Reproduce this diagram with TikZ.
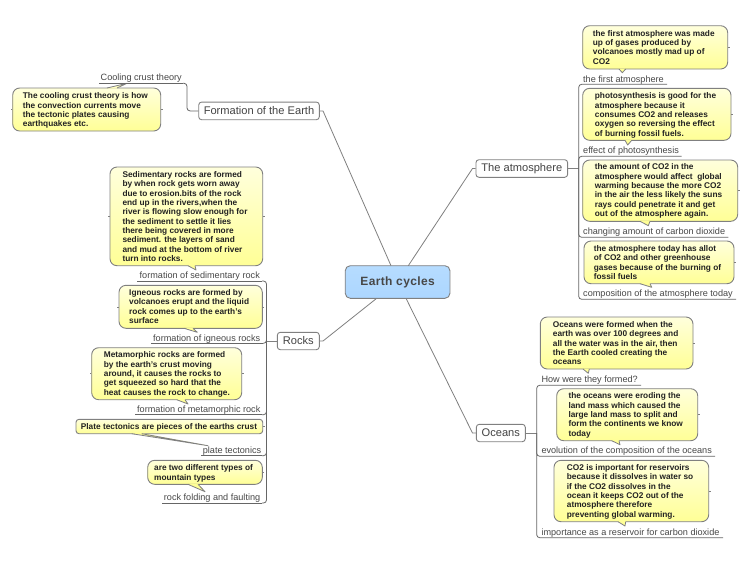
\documentclass[tikz,border=0pt]{standalone}
\usepackage{fontspec}
\setmainfont{Liberation Sans}
\definecolor{ln}{HTML}{808080}
\definecolor{ul}{HTML}{666666}
\definecolor{txt}{HTML}{222222}
\definecolor{ytop}{HTML}{FFFFDC}
\definecolor{ymid}{HTML}{FFFFA8}
\definecolor{ybot}{HTML}{FFFF96}
\definecolor{B1}{HTML}{B6DCFF}
\definecolor{B2}{HTML}{8CC4FF}
\definecolor{B3}{HTML}{ACD6FF}
\tikzset{
  notebody/.style={draw=ln,line width=.9pt,rounded corners=7pt,inner sep=0pt,top color=ytop,middle color=ymid,bottom color=ybot},
  notetext/.style={anchor=north west,inner sep=0pt,align=left,text=txt,yshift=-.7pt,font=\fontsize{8.3}{9.33}\selectfont\bfseries},
  tailline/.style={draw=ln,line width=.8pt,line join=round},
  lab/.style={anchor=base west,inner sep=0pt,text=ul!70!black,font=\fontsize{9.12}{11}\selectfont},
  topic/.style={draw=ln,fill=white,line width=.9pt,rounded corners=3pt,inner sep=0pt,text=txt!85!white,font=\fontsize{11.1}{13}\selectfont},
  center topic/.style={draw=ln,line width=.9pt,rounded corners=5pt,inner sep=0pt,top color=B1,middle color=B2,bottom color=B3,text=black!72,font=\fontsize{12}{14}\selectfont\bfseries},
  conn/.style={draw=ln,line width=.8pt},
  under/.style={draw=ul,line width=.8pt},
  branch/.style={draw=ul,line width=.8pt,rounded corners=3pt},
  tick/.style={draw=ln,line width=.6pt}
}
% name, x1,y1,x2,y2, tipx,tipy, base1,base2
\newcommand{\notebox}[6]{%
  \node[notebody,#6,minimum width=#4pt-#2pt,minimum height=#5pt-#3pt] (#1) at ({(#2+#4)/2},{(#3+#5)/2}) {};
  \draw[tick] (#1.east) -- ++(1.6,0);
}
\newcommand{\note}[9]{%
  \notebox{#1}{#2}{#3}{#4}{#5}{}
  \fill[ybot] (#8,#5-0.5) -- (#6,#7) -- (#9,#5-0.5) -- cycle;
  \draw[tailline] (#8,#5) -- (#6,#7) -- (#9,#5);
}
\newcommand{\leftick}[1]{\draw[tick] (#1.west) -- ++(-1.6,0);}
% name, textx, baseline, text, ul-x, ul-y
\newcommand{\labl}[6]{%
  \node[lab] (#1) at (#2,#3) {#4};
  \coordinate (#1u) at (#5,#6);
}
\begin{document}
\begin{tikzpicture}[x=1pt,y=-1pt]
\useasboundingbox (0,0) rectangle (750,563);
\fill[white] (0,0) rectangle (750,563);

% central topic and main topics
\node[center topic,minimum width=104.7pt,minimum height=32.6pt] (earth) at (397.6,282) {\addfontfeature{LetterSpace=3}Earth cycles};
\node[topic,minimum width=120.6pt,minimum height=17.7pt] (form) at (259,110.9) {Formation of the Earth};
\node[topic,minimum width=42pt,minimum height=17.4pt] (rocks) at (298.3,341) {Rocks};
\node[topic,minimum width=91.7pt,minimum height=17.6pt] (atm) at (521.8,168.5) {The atmosphere};
\node[topic,minimum width=49pt,minimum height=17.4pt] (oceans) at (500.8,433) {Oceans};

\coordinate (eA) at (391,265.7);
\coordinate (eB) at (408.3,265.7);
\coordinate (eC) at (376.7,298.3);
\coordinate (eD) at (406,298.3);
\coordinate (sA) at (323,110.9);
\coordinate (sB) at (472.5,168.5);
\coordinate (sC) at (323,341);
\coordinate (sD) at (472.5,433);
\draw[conn] (form.east) -- (sA) -- (eA);
\draw[conn] (atm.west) -- (sB) -- (eB);
\draw[conn] (rocks.east) -- (sC) -- (eC);
\draw[conn] (oceans.west) -- (sD) -- (eD);

% Formation of the Earth
\notebox{n1}{12.7}{88}{160.7}{131}{}
\fill[ybot!40!ytop] (107,88.5) -- (127,83.3) -- (117,88.5) -- cycle;
\draw[tailline] (107,88) -- (127,83.3) -- (117,88);
\leftick{n1}
\node[notetext] (n1t) at (22.7,91.8) {The cooling crust theory is how\\the convection currents move\\the tectonic plates causing\\earthquakes etc.};
\labl{l1}{100.5}{80.5}{Cooling crust theory}{99}{83.3}
\coordinate (b1) at (187,110.9);
\coordinate (c1) at (183,83.3);
\draw[under] (l1u) -- (c1);
\draw[branch] (c1) -| (b1) -- (form.west);

% Rocks
\coordinate (bR) at (266.5,341);
\draw[conn] (rocks.west) -- (bR);
\note{r1}{110}{167}{262.7}{265.7}{196}{270}{188}{195}
\leftick{r1}
\node[notetext] (r1t) at (122.3,170.5) {Sedimentary rocks are formed\\by when rock gets worn away\\due to erosion.bits of the rock\\end up in the rivers,when the\\river is flowing slow enough for\\the sediment to settle it lies\\there being covered in more\\sediment. the layers of sand\\and mud at the bottom of river\\turn into rocks.};
\labl{l2}{139.5}{278.5}{formation of sedimentary rock}{137}{281}
\note{r2}{119}{285.3}{262.3}{328.3}{197.3}{332.3}{184}{193}
\leftick{r2}
\node[notetext] (r2t) at (129,288.5) {Igneous rocks are formed by\\volcanoes erupt and the liquid\\rock comes up to the earth's\\surface};
\labl{l3}{153}{341}{formation of igneous rocks}{151}{343.3}
\note{r3}{91.7}{347.7}{241.7}{399.7}{188}{404}{176.7}{185}
\leftick{r3}
\node[notetext] (r3t) at (103.7,350.8) {Metamorphic rocks are formed\\by the earth's crust moving\\around, it causes the rocks to\\get squeezed so hard that the\\heat causes the rock to change.};
\labl{l4}{137}{412}{formation of metamorphic rock}{135}{414.7}
\notebox{r4}{76}{419.3}{262.7}{433.7}{rounded corners=3pt}
\fill[ybot] (131.7,433.2) -- (208,445.7) -- (141.7,433.2) -- cycle;
\draw[tailline] (131.7,433.7) -- (208,445.7) -- (141.7,433.7);
\node[notetext] (r4t) at (80.7,422.5) {Plate tectonics are pieces of the earths crust};
\labl{l5}{202.7}{453}{plate tectonics}{201}{455.7}
\note{r5}{147.7}{460.3}{262.3}{484.3}{205}{491.7}{188}{198}
\node[notetext] (r5t) at (154,463.8) {are two different types of\\mountain types};
\labl{l6}{163.7}{500}{rock folding and faulting}{162}{503}
\coordinate (c2) at (262,281);
\coordinate (c3) at (263,343.3);
\coordinate (c4) at (262,414.7);
\coordinate (c5) at (262,455.7);
\coordinate (c6) at (262,503);
\draw[under] (l2u) -- (c2);
\draw[under] (l3u) -- (c3);
\draw[under] (l4u) -- (c4);
\draw[under] (l5u) -- (c5);
\draw[under] (l6u) -- (c6);
\draw[branch] (c2) -| (bR);
\draw[branch] (c3) -| (bR);
\draw[branch] (c4) -| (bR);
\draw[branch] (c5) -| (bR);
\draw[branch] (c6) -| (bR);

% The atmosphere
\coordinate (bA) at (578.7,168.5);
\draw[conn] (atm.east) -- (bA);
\note{a1}{582.7}{25.7}{727.7}{69}{622.3}{72.7}{619}{625.7}
\node[notetext] (a1t) at (592.7,29.2) {the first atmosphere was made\\up of gases produced by\\volcanoes mostly mad up of\\CO2};
\labl{m1}{583}{82}{the first atmosphere}{667}{84.3}
\note{a2}{582.7}{88.3}{731}{140.3}{627.7}{145}{625}{631.7}
\node[notetext] (a2t) at (594.7,91.8) {photosynthesis is good for the\\atmosphere because it\\consumes CO2 and releases\\oxygen so reversing the effect\\of burning fossil fuels.};
\labl{m2}{583}{153}{effect of photosynthesis}{681.7}{156.3}
\note{a3}{582.7}{160}{737.7}{221.3}{648.3}{225.7}{640}{650}
\node[notetext] (a3t) at (594.7,163) {the amount of CO2 in the\\atmosphere would affect \ global\\warming because the more CO2\\in the air the less likely the suns\\rays could penetrate it and get\\out of the atmosphere again.};
\labl{m3}{583}{234}{changing amount of carbon dioxide}{728.3}{237.3}
\note{a4}{584}{241}{734}{283.7}{651.7}{287.3}{640}{650}
\node[notetext] (a4t) at (593.7,244.5) {the atmosphere today has allot\\of CO2 and other greenhouse\\gases because of the burning of\\fossil fuels};
\labl{m4}{583}{296.7}{composition of the atmosphere today}{736}{299.3}
\draw[branch] (m1u) -| (bA);
\draw[branch] (m2u) -| (bA);
\draw[branch] (m3u) -| (bA);
\draw[branch] (m4u) -| (bA);

% Oceans
\coordinate (bO) at (536.7,433);
\draw[conn] (oceans.east) -- (bO);
\note{o1}{540.3}{317}{693}{369}{588.3}{373.3}{583}{589.3}
\node[notetext] (o1t) at (552.7,320.5) {Oceans were formed when the\\earth was over 100 degrees and\\all the water was in the air, then\\the Earth cooled creating the\\oceans};
\labl{p1}{541.3}{382}{How were they formed?}{641}{385.3}
\note{o2}{556.7}{388.7}{697.7}{440.7}{620}{444.7}{611.7}{619}
\node[notetext] (o2t) at (568.3,392) {the oceans were eroding the\\land mass which caused the\\large land mass to split and\\form the continents we know\\today};
\labl{p2}{541.3}{453.7}{evolution of the composition of the oceans}{715}{456.3}
\note{o3}{554}{460.3}{708.7}{521.7}{625}{526}{618}{625.7}
\node[notetext] (o3t) at (566.7,463.7) {CO2 is important for reservoirs\\because it dissolves in water so\\if the CO2 dissolves in the\\ocean it keeps CO2 out of the\\atmosphere therefore\\preventing global warming.};
\labl{p3}{541.3}{535}{importance as a reservoir for carbon dioxide}{723}{537.7}
\draw[branch] (p1u) -| (bO);
\draw[branch] (p2u) -| (bO);
\draw[branch] (p3u) -| (bO);
\end{tikzpicture}
\end{document}
